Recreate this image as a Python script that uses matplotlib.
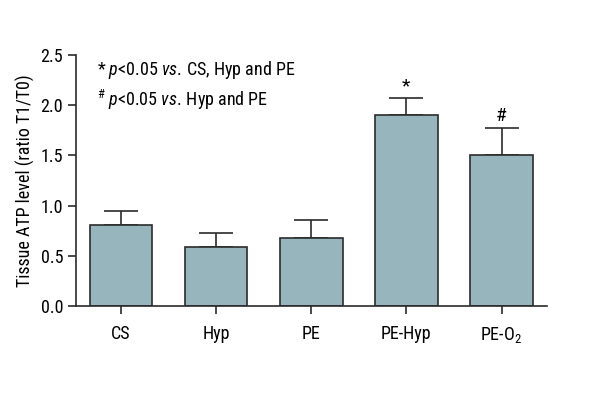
import matplotlib
matplotlib.use('Agg')
import matplotlib.pyplot as plt

plt.rcParams['font.family'] = ['Roboto Condensed', 'DejaVu Sans']
plt.rcParams['mathtext.fontset'] = 'custom'
plt.rcParams['mathtext.rm'] = 'Roboto Condensed'
plt.rcParams['mathtext.it'] = 'Roboto Condensed:italic'

groups = ['CS', 'Hyp', 'PE', 'PE-Hyp', 'PE-O$_2$']
means = [0.81, 0.59, 0.68, 1.90, 1.50]
errors = [0.14, 0.14, 0.18, 0.17, 0.27]
marks = ['', '', '', '*', '#']

bar_color = '#97b5bd'
edge = '#2b2b2b'

fig = plt.figure(figsize=(6, 4), dpi=100)
ax = fig.add_axes([0.127, 0.235, 0.785, 0.6275])

x = list(range(len(groups)))
ax.bar(x, means, width=0.66, color=bar_color, edgecolor=edge, linewidth=1.2, zorder=2)
ax.errorbar(x, means, yerr=[[0] * len(errors), errors], fmt='none',
            ecolor=edge, elinewidth=1.2, capsize=12, capthick=1.2, zorder=1)

for xi, m, e, s in zip(x, means, errors, marks):
    if s:
        ax.text(xi, m + e + 0.03, s, ha='center', va='bottom', fontsize=14)

ax.set_xlim(-0.47, 4.48)
ax.set_ylim(0, 2.5)
ax.set_yticks([0, 0.5, 1.0, 1.5, 2.0, 2.5])
ax.set_yticklabels(['0.0', '0.5', '1.0', '1.5', '2.0', '2.5'])
ax.set_xticks(x)
ax.set_xticklabels(groups)
ax.tick_params(axis='both', labelsize=13, width=1.2, length=6, color=edge)
ax.tick_params(axis='x', pad=8)
ax.set_ylabel('Tissue ATP level (ratio T1/T0)', fontsize=13)

for side in ['top', 'right']:
    ax.spines[side].set_visible(False)
for side in ['left', 'bottom']:
    ax.spines[side].set_linewidth(1.2)
    ax.spines[side].set_color(edge)

ax.text(0.045, 0.94, r'* $\it{p}$<0.05 $\it{vs.}\,$CS, Hyp and PE',
        transform=ax.transAxes, fontsize=13, va='center')
ax.text(0.045, 0.82, r'$^{\#}$ $\it{p}$<0.05 $\it{vs.}\,$Hyp and PE',
        transform=ax.transAxes, fontsize=13, va='center')

fig.savefig('out.png', dpi=100)
